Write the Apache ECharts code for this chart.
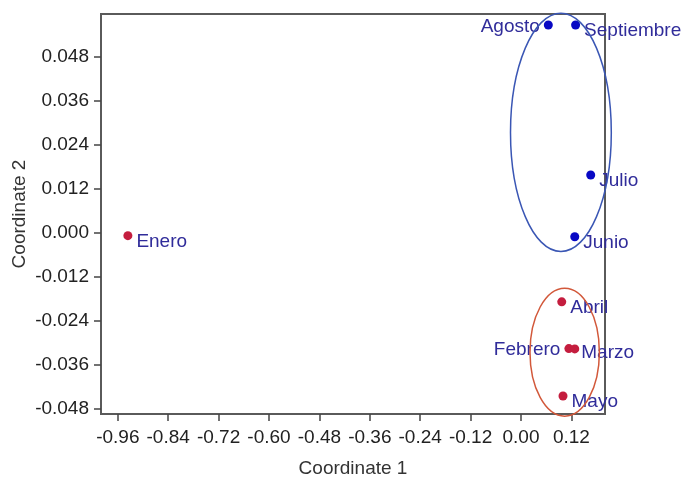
<!DOCTYPE html>
<html>
<head>
<meta charset="utf-8">
<script src="https://cdn.jsdelivr.net/npm/echarts@6/dist/echarts.min.js"></script>
<style>html,body{margin:0;padding:0;background:#fff;}#main{width:686px;height:487px;}</style>
</head>
<body>
<div id="main"></div>
<script>
// Data
var redNames = ['Enero', 'Febrero', 'Marzo', 'Abril', 'Mayo'];
var redX = [-0.936, 0.114, 0.128, 0.097, 0.100];
var redY = [-0.0008, -0.0315, -0.0316, -0.0188, -0.0444];

var blueNames = ['Junio', 'Julio', 'Agosto', 'Septiembre'];
var blueX = [0.128, 0.166, 0.065, 0.130];
var blueY = [-0.0011, 0.0157, 0.0565, 0.0565];

// group ellipses: centre and semi-axes in data units
var ellipseCx = [0.095, 0.104];
var ellipseCy = [0.0273, -0.0325];
var ellipseRx = [0.120, 0.0826];
var ellipseRy = [0.0324, 0.0174];
var ellipseColors = ['#3a56b4', '#d2583a'];

var xTicks = [-0.96, -0.84, -0.72, -0.60, -0.48, -0.36, -0.24, -0.12, 0.00, 0.12];
var yTicks = [-0.048, -0.036, -0.024, -0.012, 0.000, 0.012, 0.024, 0.036, 0.048];

var labelColor = '#302c9a';
var font = 'Liberation Sans, Arial, Helvetica, sans-serif';

function pts(xs, ys, names, cfg) {
  return xs.map(function (x, i) {
    var d = { value: [x, ys[i]], name: names[i] };
    if (cfg && cfg[names[i]]) d.label = cfg[names[i]];
    return d;
  });
}
var redData = pts(redX, redY, redNames, {
  'Febrero': { position: 'left', distance: 4, offset: [0, 1] },
  'Marzo': { offset: [-2, 4] }
});
var blueData = pts(blueX, blueY, blueNames, {
  'Agosto': { position: 'left', distance: 4, offset: [0, 2] }
});

var ellipseData = ellipseCx.map(function (c, i) {
  return [c, ellipseCy[i], ellipseRx[i], ellipseRy[i], i];
});

var axisLineStyle = { show: true, onZero: false, lineStyle: { color: '#5a5a5a', width: 2 } };

var chart = echarts.init(document.getElementById('main'), null, { renderer: 'canvas' });
chart.setOption({
  backgroundColor: '#ffffff',
  animation: false,
  grid: {
    left: 101, right: 81, top: 14, bottom: 73,
    containLabel: false, outerBoundsMode: 'none',
    show: true, borderColor: '#5a5a5a', borderWidth: 2, backgroundColor: 'transparent'
  },
  xAxis: {
    type: 'value', min: -1.0, max: 0.2,
    name: 'Coordinate 1', nameLocation: 'middle', nameGap: 45, nameMoveOverlap: false,
    nameTextStyle: { fontFamily: font, fontSize: 19, color: '#333' },
    axisLine: axisLineStyle,
    splitLine: { show: false },
    axisTick: { show: true, inside: false, length: 7, customValues: xTicks, lineStyle: { color: '#444', width: 1.5 } },
    axisLabel: {
      customValues: xTicks, margin: 14, fontFamily: font, fontSize: 19, color: '#222',
      formatter: function (v) { return v.toFixed(2); }
    }
  },
  yAxis: {
    type: 'value', min: -0.0493, max: 0.0595,
    name: 'Coordinate 2', nameLocation: 'middle', nameGap: 72, nameMoveOverlap: false,
    nameTextStyle: { fontFamily: font, fontSize: 19, color: '#333' },
    axisLine: axisLineStyle,
    splitLine: { show: false },
    axisTick: { show: true, inside: false, length: 7, customValues: yTicks, lineStyle: { color: '#444', width: 1.5 } },
    axisLabel: {
      customValues: yTicks, margin: 12, fontFamily: font, fontSize: 19, color: '#222',
      formatter: function (v) { return v.toFixed(3); }
    }
  },
  series: [
    {
      type: 'scatter', name: 'red', data: redData, symbolSize: 9,
      itemStyle: { color: '#c41d3e', opacity: 1 },
      label: {
        show: true, position: 'right', distance: 4, offset: [0, 6],
        formatter: '{b}', fontFamily: font, fontSize: 19, color: labelColor
      }
    },
    {
      type: 'scatter', name: 'blue', data: blueData, symbolSize: 9,
      itemStyle: { color: '#0808c4', opacity: 1 },
      label: {
        show: true, position: 'right', distance: 4, offset: [0, 6],
        formatter: '{b}', fontFamily: font, fontSize: 19, color: labelColor
      }
    },
    {
      type: 'custom', name: 'ellipses', data: ellipseData, clip: false, silent: true, z: 5,
      renderItem: function (params, api) {
        var c = api.coord([api.value(0), api.value(1)]);
        var s = api.size([api.value(2), api.value(3)]);
        var idx = api.value(4);
        return {
          type: 'ellipse',
          shape: { cx: c[0], cy: c[1], rx: s[0], ry: s[1] },
          style: { fill: 'none', stroke: ellipseColors[idx], lineWidth: 1.5 }
        };
      }
    }
  ]
});
</script>
</body>
</html>
